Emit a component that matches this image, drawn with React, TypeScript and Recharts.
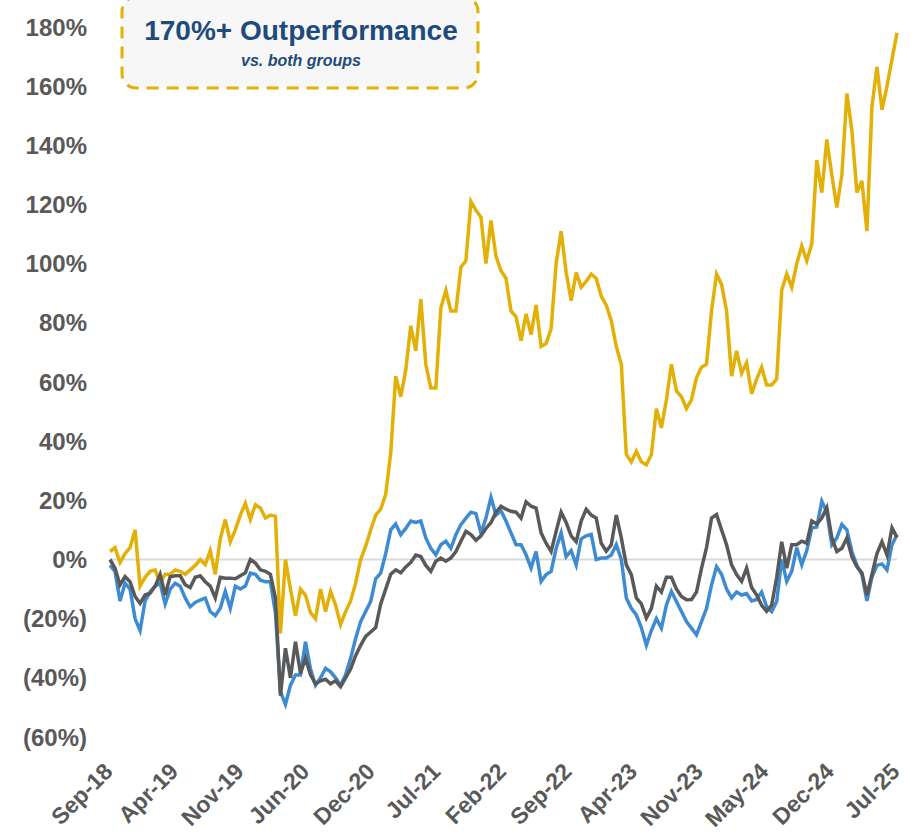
import React from 'react';
import { LineChart, Line, XAxis, YAxis, ReferenceLine } from 'recharts';

const xLabels = ['Sep-18', 'Apr-19', 'Nov-19', 'Jun-20', 'Dec-20', 'Jul-21', 'Feb-22', 'Sep-22', 'Apr-23', 'Nov-23', 'May-24', 'Dec-24', 'Jul-25'];
const yTicks = [-60, -40, -20, 0, 20, 40, 60, 80, 100, 120, 140, 160, 180];

const goldSeries = [
  2.7, 4, -1, 2, 4, 10, -9, -6, -4, -3.5,
  -8, -5, -5, -3.5, -4, -5, -3.5, -2, 0, -1.7,
  3, -5, 7, 13.5, 6, 10, 15, 19, 13.5, 18.5,
  17.4, 14, 15, 14.6, -25, 0, -10, -19, -10, -12,
  -18, -20, -10, -17.6, -10.8, -15.4, -22, -17.6, -14, -8,
  0, 4.5, 10, 15, 17, 22, 36, 62, 55, 64,
  79, 70.5, 88, 66, 58, 58, 85, 91, 84, 84,
  98.8, 101, 121, 118, 115.7, 100, 114.6, 102.5, 97.6, 95,
  84, 82, 74, 83, 76, 86, 72, 73, 78, 100,
  111, 97, 87.5, 97, 92, 94, 96.5, 95, 89, 86,
  80.7, 72, 66, 35.5, 33, 36.6, 33, 32, 35.5, 51,
  44.5, 54, 66, 57, 55, 51, 54, 61.5, 65, 66,
  84, 96.5, 93, 84, 62, 70.5, 63, 66.5, 56, 61,
  65, 59, 59, 61, 91, 96.5, 92, 100, 106, 101,
  106.7, 135, 124, 142, 130, 119, 130, 157.5, 145, 124,
  128, 111, 153, 166.5, 152, 160, 169, 178,
];

const blueSeries = [
  -2, -4, -14, -8, -10, -20, -24, -14, -11, -9,
  -8, -15, -10, -8, -9, -13, -16, -14.5, -13.7, -13,
  -17.6, -19, -16.5, -10.8, -16.5, -9, -10, -9, -4.6, -5,
  -7, -7.5, -7.5, -18, -44.7, -49, -42.5, -39, -39, -27.8,
  -37, -42.5, -40, -36.8, -38, -40, -42.5, -39, -33.4, -26.7,
  -21, -17.6, -14.2, -6.5, -4.6, 2, 10, 12, 8.4, 10.5,
  13, 12.5, 13, 7.3, 3.8, 1.6, 5, 6.2, 3.8, 8.4,
  11.8, 14, 16, 15.5, 9, 14, 21, 15, 16.5, 13,
  9, 5, 5, 1.6, -2.9, 2.7, -7.4, -5.1, -4, 3.8,
  9, 1, 3, -1.8, 7, 8, 8.5, 0, 0.5, 0.5,
  1.5, 5, 0, -13, -16.5, -18.7, -23, -29, -24, -20,
  -23.2, -15.4, -10.8, -14.2, -17.6, -21, -23.2, -25.5, -21, -16.5,
  -8.6, -2.4, -5, -10, -13, -11, -12, -11.5, -14, -13.5,
  -11, -16, -17.6, -14.2, 0, -7.4, -4, 4, -1.8, 3,
  10.6, 11, 19.7, 16, 5, 7.3, 11.8, 10, 2.7, -2,
  -5, -14, -6, -2, -1.5, -3.5, 5, 8.4,
];

const graySeries = [
  0, -2.9, -8.6, -5.8, -7.5, -12.5, -14.8, -12, -11.4, -9,
  -5, -12, -5.8, -5.5, -5.5, -8.5, -9.5, -6, -5.5, -7.5,
  -9, -13, -6, -6.3, -6.3, -6.5, -5.5, -4.5, 0, -1.2,
  -3.5, -4, -5, -13, -46, -30, -40, -27.8, -38.5, -33.4,
  -39, -42, -41, -40.5, -42, -41, -43, -40, -37, -32.5,
  -29, -26, -24.5, -23, -15, -10, -5, -3.5, -4.5, -2.5,
  -1, 1.5, 1, -2, -4, -0.6, 0.5, -0.6, 0.5, 2.7,
  6.2, 9.5, 8.4, 6.5, 8, 10.5, 12.5, 16, 18, 17,
  16.3, 16, 14, 19.5, 18, 17.4, 9, 5.5, 2.7, 9.5,
  16, 12.5, 8, 6, 13, 17, 15, 14, 5.5, 2.8,
  5, 15, 7.3, -1.8, -5.1, -13, -15, -19.8, -16.5, -9,
  -11, -6, -6, -10, -12.5, -13.6, -13.5, -11, -3, 4,
  14, 15.2, 10, 5, -1.8, -5.1, -7.4, -2.9, -9.5, -12,
  -15.5, -17.5, -15.4, -6, 6, -2.9, 5, 5, 6.2, 5.5,
  13, 12, 14, 17.5, 7.3, 2.7, 3.8, 7.3, 1, -2.5,
  -4.5, -12, -5, 2, 6, 1.5, 10.7, 7.5,
];

const lastIndex = goldSeries.length - 1;
const rows = goldSeries.map((g, i) => ({ i, gold: g, blue: blueSeries[i], gray: graySeries[i] }));
const xTicks = xLabels.map((_, k) => (k * lastIndex) / (xLabels.length - 1));

const FONT = '"Liberation Sans", Arial, sans-serif';
const AXIS_GRAY = '#595959';

const fmtPct = (v: number) => (v < 0 ? `(${Math.abs(v)}%)` : `${v}%`);

const XTick = (props: any) => {
  const { x, y, index } = props;
  return (
    <g transform={`translate(${x + 4},${y + 28})`}>
      <text
        x={0}
        y={0}
        textAnchor="end"
        transform="rotate(-45)"
        fill={AXIS_GRAY}
        fontSize={23}
        fontWeight={700}
        fontFamily={FONT}
      >
        {xLabels[index]}
      </text>
    </g>
  );
};

export default function App() {
  return (
    <div style={{ position: 'absolute', left: 0, top: 0, width: 919, height: 834, background: '#ffffff', fontFamily: FONT }}>
      <LineChart width={919} height={834} data={rows} margin={{ top: 27, right: 22, bottom: 7, left: 0 }}>
        <XAxis
          dataKey="i"
          type="number"
          domain={[0, lastIndex]}
          ticks={xTicks}
          interval={0}
          tick={<XTick />}
          axisLine={false}
          tickLine={false}
          height={90}
        />
        <YAxis
          domain={[-60, 180]}
          ticks={yTicks}
          interval={0}
          width={110}
          axisLine={false}
          tickLine={false}
          tickMargin={17}
          tickFormatter={fmtPct}
          tick={{ fill: AXIS_GRAY, fontSize: 24, fontWeight: 700, fontFamily: FONT }}
        />
        <ReferenceLine y={0} stroke="#D9D9D9" strokeWidth={2} />
        <Line type="linear" dataKey="gold" stroke="#E2B007" strokeWidth={3.5} dot={false} isAnimationActive={false} />
        <Line type="linear" dataKey="blue" stroke="#3F8BD2" strokeWidth={3.5} dot={false} isAnimationActive={false} />
        <Line type="linear" dataKey="gray" stroke="#595959" strokeWidth={3.5} dot={false} isAnimationActive={false} />
      </LineChart>
      <svg width={919} height={100} style={{ position: 'absolute', left: 0, top: 0, pointerEvents: 'none' }}>
        <rect x={122} y={-3} width={356} height={91} rx={14} ry={14} fill="#F7F7F7" stroke="#E2B007" strokeWidth={3} strokeDasharray="12 8" />
        <text x={301} y={40} textAnchor="middle" fontSize={28} fontWeight={700} fill="#1F4A7C" fontFamily={FONT}>
          170%+ Outperformance
        </text>
        <text x={301} y={66} textAnchor="middle" fontSize={16} fontWeight={700} fontStyle="italic" fill="#1F4A7C" fontFamily={FONT}>
          vs. both groups
        </text>
      </svg>
    </div>
  );
}
